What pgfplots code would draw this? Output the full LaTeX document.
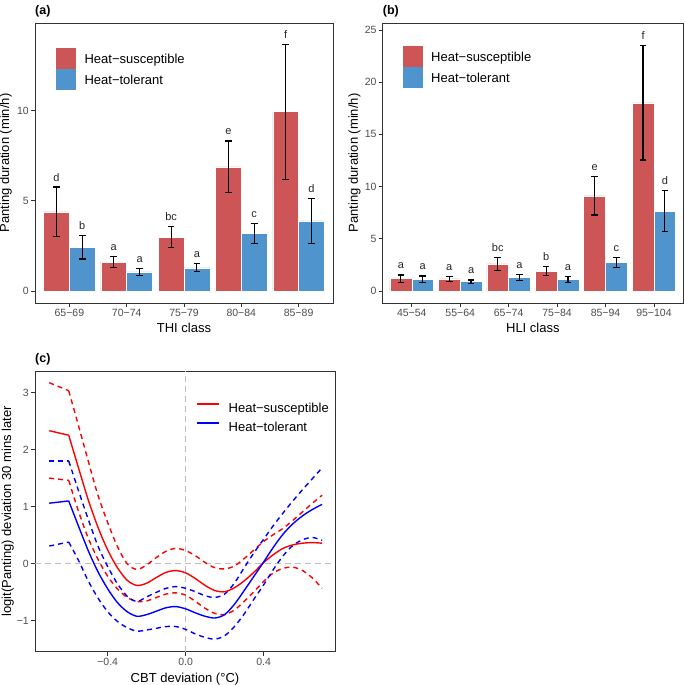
\documentclass[border=0pt]{standalone}
\usepackage{fontspec}
\setmainfont{Liberation Sans}
\usepackage{pgfplots}
\pgfplotsset{compat=1.18}
\definecolor{HSred}{HTML}{CD5555}
\definecolor{HTblue}{HTML}{4F94CD}
\definecolor{frame}{HTML}{333333}
\definecolor{ticktxt}{HTML}{4D4D4D}
\definecolor{refgray}{HTML}{BEBEBE}

\pgfplotsset{
  panel/.style={
    scale only axis, anchor=south west,
    axis line style={frame, line width=0.8pt},
    tick style={frame, line width=0.8pt},
    tick align=outside, tick pos=left,
    major tick length=4pt,
    tick label style={font=\fontsize{10.5}{12}\selectfont, text=ticktxt},
    xticklabel style={inner sep=1pt, yshift=-1pt},
    yticklabel style={inner sep=1pt, xshift=-1pt},
    label style={font=\fontsize{13}{15}\selectfont, inner sep=0pt},
    /pgf/number format/assume math mode=true,
    title style={font=\fontsize{12.5}{14}\selectfont\bfseries,
      at={(axis description cs:0,1)}, anchor=base west, inner sep=0pt, yshift=2pt},
  },
  barpanel/.style={
    panel,
    legend style={draw=none, fill=none, font=\fontsize{13}{15}\selectfont,
      anchor=north west, row sep=0.5pt, column sep=9pt, nodes={inner sep=0pt}},
    legend cell align=left,
  },
  hsbar/.style={ybar, bar width=0.45, bar shift=0pt, fill=HSred, draw=white, line width=0.5pt,
    legend image code/.code={\fill[HSred] (0pt,-8.5pt) rectangle (19pt,11.5pt);},
    error bars/.cd, y dir=both, y explicit,
    error bar style={black, line width=1.2pt},
    error mark options={rotate=90, black, mark size=3.3pt, line width=1.2pt}},
  htbar/.style={ybar, bar width=0.45, bar shift=0pt, fill=HTblue, draw=white, line width=0.5pt,
    legend image code/.code={\fill[HTblue] (0pt,-8.5pt) rectangle (19pt,11.5pt);},
    error bars/.cd, y dir=both, y explicit,
    error bar style={black, line width=1.2pt},
    error mark options={rotate=90, black, mark size=3.3pt, line width=1.2pt}},
  letters/.style={draw=none, mark=none, forget plot, nodes near coords, point meta=explicit symbolic,
    every node near coord/.append style={anchor=base, yshift=6pt, inner sep=0pt,
      font=\fontsize{11}{12}\selectfont, text=black!85}},
}

\begin{document}
\begin{tikzpicture}
\path[use as bounding box] (0pt,0pt) rectangle (685pt,685pt);

% (a) THI
\begin{axis}[barpanel,
  at={(35pt,382pt)}, width=298pt, height=280pt,
  xmin=0.4, xmax=5.6, ymin=-0.67, ymax=14.86,
  xtick={1,2,3,4,5},
  xticklabels={65−69,70−74,75−79,80−84,85−89},
  ytick={0,5,10},
  title={(a)},
  xlabel={THI class}, ylabel={Panting duration (min/h)},
  xlabel style={at={(axis description cs:0.5,-0.07)}, anchor=north},
  ylabel style={at={(axis description cs:-0.077,0.5)}, anchor=south},
  legend style={at={(axis description cs:0.06,0.92)}},
]
\addplot[hsbar] coordinates {
  (0.775,4.38) +- (0,1.38)
  (1.775,1.59) +- (0,0.31)
  (2.775,2.99) +- (0,0.58)
  (3.775,6.88) +- (0,1.44)
  (4.775,9.94) +- (0,3.74)
};
\addplot[htbar] coordinates {
  (1.225,2.42) +- (0,0.65)
  (2.225,1.05) +- (0,0.19)
  (3.225,1.28) +- (0,0.22)
  (4.225,3.18) +- (0,0.57)
  (5.225,3.88) +- (0,1.25)
};
\addplot[letters] coordinates {
  (0.775,5.76)[d] (1.775,1.90)[a] (2.775,3.57)[bc] (3.775,8.32)[e] (4.775,13.68)[f]
  (1.225,3.07)[b] (2.225,1.24)[a] (3.225,1.50)[a] (4.225,3.75)[c] (5.225,5.13)[d]
};
\legend{Heat−susceptible, Heat−tolerant}
\end{axis}

% (b) HLI
\begin{axis}[barpanel,
  at={(382.7pt,382pt)}, width=300.3pt, height=280pt,
  xmin=0.4, xmax=6.6, ymin=-1.15, ymax=25.67,
  xtick={1,2,3,4,5,6},
  xticklabels={45−54,55−64,65−74,75−84,85−94,95−104},
  ytick={0,5,10,15,20,25},
  title={(b)},
  xlabel={HLI class}, ylabel={Panting duration (min/h)},
  xlabel style={at={(axis description cs:0.5,-0.07)}, anchor=north},
  ylabel style={at={(axis description cs:-0.073,0.5)}, anchor=south},
  legend style={at={(axis description cs:0.056,0.925)}},
]
\addplot[hsbar] coordinates {
  (0.775,1.18) +- (0,0.36)
  (1.775,1.15) +- (0,0.24)
  (2.775,2.59) +- (0,0.65)
  (3.775,1.90) +- (0,0.45)
  (4.775,9.12) +- (0,1.84)
  (5.775,18.03) +- (0,5.48)
};
\addplot[htbar] coordinates {
  (1.225,1.12) +- (0,0.32)
  (2.225,0.89) +- (0,0.17)
  (3.225,1.29) +- (0,0.29)
  (4.225,1.12) +- (0,0.27)
  (5.225,2.76) +- (0,0.48)
  (6.225,7.64) +- (0,1.97)
};
\addplot[letters] coordinates {
  (0.775,1.54)[a] (1.775,1.39)[a] (2.775,3.24)[bc] (3.775,2.35)[b] (4.775,10.96)[e] (5.775,23.51)[f]
  (1.225,1.44)[a] (2.225,1.06)[a] (3.225,1.58)[a] (4.225,1.39)[a] (5.225,3.24)[c] (6.225,9.61)[d]
};
\legend{Heat−susceptible, Heat−tolerant}
\end{axis}

% (c) CBT deviation
\begin{axis}[panel,
  at={(35pt,33.3pt)}, width=300pt, height=280.7pt,
  xmin=-0.773, xmax=0.766, ymin=-1.54, ymax=3.375,
  xtick={-0.4,0,0.4}, xticklabels={−0.4,0.0,0.4},
  ytick={-1,0,1,2,3}, yticklabels={−1,0,1,2,3},
  title={(c)},
  xlabel={CBT deviation (°C)}, ylabel={logit(Panting) deviation 30 mins later},
  xlabel style={at={(axis description cs:0.5,-0.075)}, anchor=north},
  ylabel style={at={(axis description cs:-0.07,0.5)}, anchor=south},
  legend style={draw=none, fill=none, font=\fontsize{13}{15}\selectfont,
    at={(axis description cs:0.527,0.893)}, anchor=north west, row sep=8pt, column sep=9pt,
    nodes={inner sep=0pt}},
  legend cell align=left,
  dashc/.style={line width=1.4pt, dash pattern=on 5pt off 4pt},
  fitc/.style={line width=1.4pt},
]
\addplot[refgray, line width=1.2pt, dash pattern=on 6pt off 4pt, forget plot] coordinates {(-0.773,0) (0.766,0)};
\addplot[refgray, line width=1.2pt, dash pattern=on 6pt off 4pt, forget plot] coordinates {(0,-1.54) (0,3.375)};
% red upper / lower
\addplot[red, dashc, forget plot] coordinates {(-0.70,3.17)(-0.60,3.03)};
\addplot[red, dashc, smooth, forget plot] coordinates {
  (-0.60,3.03)(-0.55,2.42)(-0.50,1.80)(-0.45,1.20)(-0.40,0.72)(-0.35,0.30)(-0.30,0.00)
  (-0.25,-0.10)(-0.20,-0.02)(-0.15,0.11)(-0.10,0.22)(-0.05,0.27)(0.00,0.23)(0.05,0.14)
  (0.10,0.02)(0.15,-0.07)(0.20,-0.09)(0.25,-0.04)(0.30,0.09)(0.35,0.24)(0.40,0.39)
  (0.45,0.51)(0.50,0.62)(0.55,0.76)(0.60,0.91)(0.65,1.06)(0.70,1.20)};
\addplot[red, dashc, forget plot] coordinates {(-0.70,1.50)(-0.60,1.46)};
\addplot[red, dashc, smooth, forget plot] coordinates {
  (-0.60,1.46)(-0.55,0.92)(-0.50,0.45)(-0.45,0.08)(-0.40,-0.22)(-0.35,-0.44)(-0.30,-0.59)
  (-0.25,-0.66)(-0.20,-0.65)(-0.15,-0.59)(-0.10,-0.53)(-0.05,-0.51)(0.00,-0.55)(0.05,-0.66)
  (0.10,-0.78)(0.15,-0.87)(0.20,-0.89)(0.25,-0.81)(0.30,-0.66)(0.35,-0.49)(0.40,-0.31)
  (0.45,-0.16)(0.50,-0.08)(0.55,-0.06)(0.60,-0.12)(0.65,-0.25)(0.70,-0.43)};
% blue upper / lower
\addplot[blue, dashc, forget plot] coordinates {(-0.70,1.80)(-0.60,1.80)};
\addplot[blue, dashc, smooth, forget plot] coordinates {
  (-0.60,1.80)(-0.55,1.28)(-0.50,0.78)(-0.45,0.31)(-0.40,-0.05)(-0.35,-0.35)(-0.30,-0.57)
  (-0.25,-0.66)(-0.20,-0.58)(-0.15,-0.50)(-0.10,-0.43)(-0.05,-0.40)(0.00,-0.43)(0.05,-0.49)
  (0.10,-0.56)(0.15,-0.59)(0.20,-0.53)(0.25,-0.34)(0.30,-0.07)(0.35,0.19)(0.40,0.43)
  (0.45,0.67)(0.50,0.89)(0.55,1.10)(0.60,1.30)(0.65,1.49)(0.70,1.68)};
\addplot[blue, dashc, forget plot] coordinates {(-0.70,0.31)(-0.60,0.38)};
\addplot[blue, dashc, smooth, forget plot] coordinates {
  (-0.60,0.38)(-0.55,0.06)(-0.50,-0.30)(-0.45,-0.60)(-0.40,-0.84)(-0.35,-1.01)(-0.30,-1.12)
  (-0.25,-1.18)(-0.20,-1.16)(-0.15,-1.13)(-0.10,-1.10)(-0.05,-1.10)(0.00,-1.15)(0.05,-1.23)
  (0.10,-1.29)(0.15,-1.32)(0.20,-1.26)(0.25,-1.10)(0.30,-0.88)(0.35,-0.62)(0.40,-0.37)
  (0.45,-0.10)(0.50,0.14)(0.55,0.32)(0.60,0.42)(0.65,0.46)(0.70,0.41)};
% fitted curves
\addplot[red, fitc, forget plot] coordinates {(-0.70,2.33)(-0.60,2.25)};
\addplot[red, fitc, smooth,
  legend image code/.code={\draw[red, line width=1.4pt] (0pt,4.5pt) -- (22pt,4.5pt);}] coordinates {
  (-0.60,2.25)(-0.55,1.68)(-0.50,1.12)(-0.45,0.64)(-0.40,0.24)(-0.35,-0.07)(-0.30,-0.29)
  (-0.25,-0.38)(-0.20,-0.34)(-0.15,-0.24)(-0.10,-0.15)(-0.05,-0.12)(0.00,-0.16)(0.05,-0.26)
  (0.10,-0.38)(0.15,-0.47)(0.20,-0.49)(0.25,-0.42)(0.30,-0.30)(0.35,-0.15)(0.40,0.02)
  (0.45,0.16)(0.50,0.27)(0.55,0.33)(0.60,0.36)(0.65,0.37)(0.70,0.36)};
\addplot[blue, fitc, forget plot] coordinates {(-0.70,1.06)(-0.60,1.10)};
\addplot[blue, fitc, smooth,
  legend image code/.code={\draw[blue, line width=1.4pt] (0pt,4.5pt) -- (22pt,4.5pt);}] coordinates {
  (-0.60,1.10)(-0.55,0.66)(-0.50,0.23)(-0.45,-0.14)(-0.40,-0.44)(-0.35,-0.68)(-0.30,-0.84)
  (-0.25,-0.92)(-0.20,-0.89)(-0.15,-0.83)(-0.10,-0.77)(-0.05,-0.75)(0.00,-0.79)(0.05,-0.86)
  (0.10,-0.92)(0.15,-0.95)(0.20,-0.89)(0.25,-0.71)(0.30,-0.47)(0.35,-0.22)(0.40,0.03)
  (0.45,0.29)(0.50,0.52)(0.55,0.70)(0.60,0.84)(0.65,0.95)(0.70,1.04)};
\legend{Heat−susceptible, Heat−tolerant}
\end{axis}
\end{tikzpicture}
\end{document}
